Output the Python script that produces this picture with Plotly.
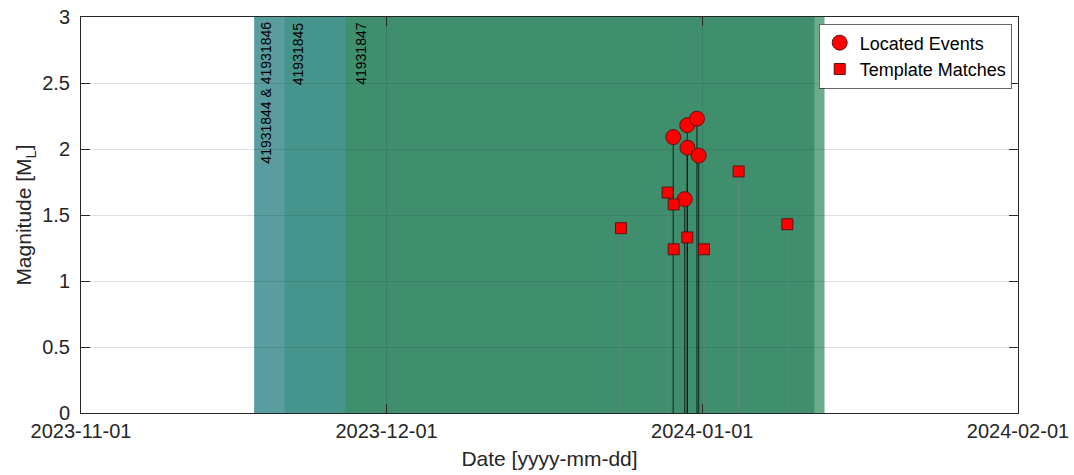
import plotly.graph_objects as go

# ---------------- data ----------------
located_times = ["2023-12-29 03:36", "2023-12-30 12:30", "2023-12-31 11:30",
                 "2023-12-30 13:00", "2023-12-31 15:36", "2023-12-30 06:30"]
located_mags = [2.09, 2.18, 2.23, 2.01, 1.95, 1.62]

template_times = ["2023-12-24 00:30", "2023-12-28 14:24", "2023-12-29 04:33",
                  "2023-12-30 12:43", "2023-12-29 04:33", "2024-01-01 04:05",
                  "2024-01-04 13:41", "2024-01-09 08:24"]
template_mags = [1.40, 1.67, 1.58, 1.33, 1.24, 1.24, 1.83, 1.43]

period_labels = ["41931844 & 41931846", "41931845", "41931847"]
period_starts = ["2023-11-18", "2023-11-21", "2023-11-27"]
period_ends = ["2024-01-12", "2024-01-12", "2024-01-13"]

x_ticks = ["2023-11-01", "2023-12-01", "2024-01-01", "2024-02-01"]
y_ticks = [0, 0.5, 1, 1.5, 2, 2.5, 3]

# ---------------- style ----------------
period_colors = ["rgba(19,116,119,0.7)", "rgba(50,142,120,0.5)", "rgba(62,142,102,0.75)"]
label_xshift = [11.5, 13, 14.5]
FONT = "Liberation Sans, Arial, Helvetica, sans-serif"
AX = "rgb(38,38,38)"
GRID = "rgba(38,38,38,0.15)"


def stems(xs, ys):
    sx, sy = [], []
    for x, y in zip(xs, ys):
        sx += [x, x, None]
        sy += [0, y, None]
    return sx, sy


fig = go.Figure()

# stems
tsx, tsy = stems(template_times, template_mags)
fig.add_trace(go.Scatter(x=tsx, y=tsy, mode="lines", showlegend=False, hoverinfo="skip",
                         line=dict(color="rgba(128,128,128,0.55)", width=1)))
lsx, lsy = stems(located_times, located_mags)
fig.add_trace(go.Scatter(x=lsx, y=lsy, mode="lines", showlegend=False, hoverinfo="skip",
                         line=dict(color="rgba(0,0,0,0.65)", width=1.2)))

# markers
fig.add_trace(go.Scatter(x=located_times, y=located_mags, mode="markers", name="Located Events",
                         marker=dict(symbol="circle", size=15, color="rgb(255,0,0)",
                                     line=dict(color="rgb(90,20,20)", width=1))))
fig.add_trace(go.Scatter(x=template_times, y=template_mags, mode="markers", name="Template Matches",
                         marker=dict(symbol="square", size=11, color="rgb(255,0,0)",
                                     line=dict(color="rgb(90,20,20)", width=1))))

# shaded periods and labels
for lab, s, e, c, xs in zip(period_labels, period_starts, period_ends, period_colors, label_xshift):
    fig.add_shape(type="rect", xref="x", yref="paper", x0=s, x1=e, y0=0, y1=1,
                  fillcolor=c, line=dict(width=0), layer="below")
    fig.add_annotation(x=s, y=1, xref="x", yref="paper", text=lab, textangle=-90,
                       showarrow=False, xanchor="center", yanchor="top", xshift=xs, yshift=-3,
                       font=dict(family=FONT, size=14, color="black"))

fig.update_layout(
    width=1074, height=475,
    margin=dict(l=81, r=56, t=17, b=62, autoexpand=False),
    paper_bgcolor="white", plot_bgcolor="white",
    font=dict(family=FONT, color=AX),
    legend=dict(x=0.9936, y=0.983, xanchor="right", yanchor="top",
                bgcolor="white", bordercolor="rgb(38,38,38)", borderwidth=0.7,
                font=dict(family=FONT, size=18, color="black"),
                tracegroupgap=0, itemwidth=30),
    xaxis=dict(type="date", range=["2023-11-01", "2024-02-01"], automargin=False,
               tickvals=x_ticks, ticktext=x_ticks,
               ticks="inside", ticklen=9, tickcolor=AX, tickwidth=1,
               showline=True, linecolor=AX, linewidth=1, mirror="ticks",
               showgrid=True, gridcolor=GRID, gridwidth=1, zeroline=False,
               tickfont=dict(family=FONT, size=20, color=AX),
               title=dict(text="Date [yyyy-mm-dd]", font=dict(family=FONT, size=21, color=AX), standoff=10)),
    yaxis=dict(range=[0, 3], tickvals=y_ticks, ticktext=[f"{v:g}" for v in y_ticks], automargin=False,
               ticks="inside", ticklen=9, tickcolor=AX, tickwidth=1,
               showline=True, linecolor=AX, linewidth=1, mirror="ticks",
               showgrid=True, gridcolor=GRID, gridwidth=1, zeroline=False,
               tickfont=dict(family=FONT, size=20, color=AX), ticklabelstandoff=6,
               title=dict(text="Magnitude [M<sub>L</sub>]", font=dict(family=FONT, size=21, color=AX), standoff=4)),
)

fig.write_html("out.html", config={"displayModeBar": False},
               post_script="document.body.style.margin='0px';")
